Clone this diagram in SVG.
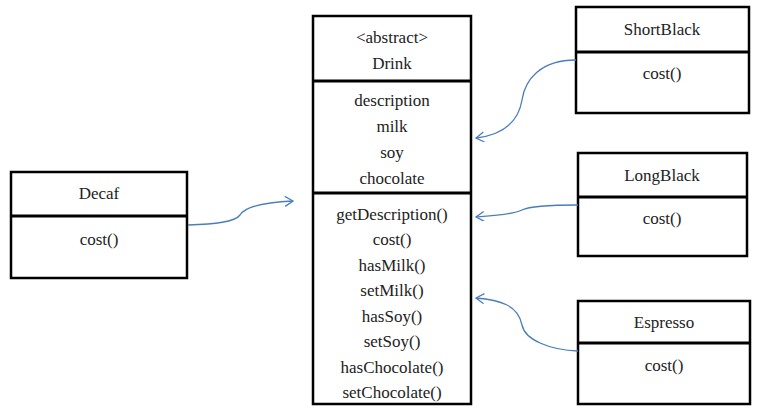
<svg xmlns="http://www.w3.org/2000/svg" width="759" height="415" viewBox="0 0 759 415">
<style>
.box{fill:#fff;stroke:#000;stroke-width:2.5}
.div{stroke:#000;stroke-width:3}
.t{font-size:17px;fill:#222;text-anchor:middle}
.c{fill:none;stroke:#4a7ebb;stroke-width:1.3}
</style>
<defs>
<marker id="arr" markerWidth="12" markerHeight="12" refX="9" refY="5" orient="auto" markerUnits="userSpaceOnUse">
<path d="M1,0 L9,5 L1,10" fill="none" stroke="#4a7ebb" stroke-width="1.3"/>
</marker>
</defs>
<rect width="759" height="415" fill="#fff"/>
<g font-family="'Liberation Serif', 'DejaVu Serif', 'Times New Roman', serif">
<g id="drink">
<rect class="box" x="313" y="16" width="158" height="388"/>
<line class="div" x1="313" y1="81" x2="471" y2="81"/>
<line class="div" x1="313" y1="193" x2="471" y2="193"/>
<text class="t" x="392" y="43">&lt;abstract&gt;</text>
<text class="t" x="392" y="69">Drink</text>
<text class="t" x="392" y="106">description</text>
<text class="t" x="392" y="132">milk</text>
<text class="t" x="392" y="158">soy</text>
<text class="t" x="392" y="184">chocolate</text>
<text class="t" x="392" y="220">getDescription()</text>
<text class="t" x="392" y="245">cost()</text>
<text class="t" x="392" y="271">hasMilk()</text>
<text class="t" x="392" y="296">setMilk()</text>
<text class="t" x="392" y="322">hasSoy()</text>
<text class="t" x="392" y="347">setSoy()</text>
<text class="t" x="392" y="373">hasChocolate()</text>
<text class="t" x="392" y="398">setChocolate()</text>
</g>
<g id="shortblack">
<rect class="box" x="576" y="7" width="173" height="106"/>
<line class="div" x1="576" y1="52" x2="749" y2="52"/>
<text class="t" x="662" y="35">ShortBlack</text>
<text class="t" x="662" y="79">cost()</text>
</g>
<g id="longblack">
<rect class="box" x="578" y="153" width="169" height="103"/>
<line class="div" x1="578" y1="197" x2="747" y2="197"/>
<text class="t" x="662" y="181">LongBlack</text>
<text class="t" x="662" y="224">cost()</text>
</g>
<g id="espresso">
<rect class="box" x="578" y="301" width="172" height="103"/>
<line class="div" x1="578" y1="343" x2="750" y2="343"/>
<text class="t" x="664" y="328">Espresso</text>
<text class="t" x="664" y="371">cost()</text>
</g>
<g id="decaf">
<rect class="box" x="11" y="172" width="176" height="106"/>
<line class="div" x1="11" y1="216" x2="187" y2="216"/>
<text class="t" x="99" y="199">Decaf</text>
<text class="t" x="99" y="245">cost()</text>
</g>
</g>
<g id="connectors">
<path class="c" d="M188,225 C215,224 235,222 240,215 C246,205 270,202 293,201" marker-end="url(#arr)"/>
<path class="c" d="M576,60 C540,60 525,80 522,100 C518,125 500,135 476,138" marker-end="url(#arr)"/>
<path class="c" d="M578,205 C550,205 530,206 522,210 C512,215 490,216 476,217" marker-end="url(#arr)"/>
<path class="c" d="M578,351 C550,350 525,340 522,325 C518,305 500,300 476,298" marker-end="url(#arr)"/>
</g>
</svg>
